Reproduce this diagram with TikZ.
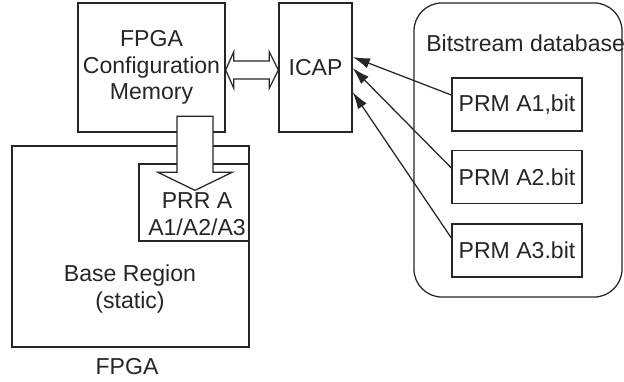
\documentclass[tikz,border=0pt]{standalone}
\usepackage{fontspec}
\setmainfont{Liberation Sans}
\usetikzlibrary{arrows.meta,calc,positioning}

\begin{document}
\begin{tikzpicture}[
    x=0.025cm,
    y=-0.025cm,
    >={Latex[length=4.3mm, width=2.6mm]},
    box/.style={draw=black!85, line width=0.9pt, align=center, inner sep=0pt, text=black!85, font=\fontsize{16.4}{18.8}\selectfont},
    txt/.style={align=center, inner sep=0pt, text=black!85, font=\fontsize{16.4}{18.8}\selectfont},
    hollow/.style={draw=black!85, fill=white, line width=0.9pt, line join=miter},
    line/.style={->, draw=black!85, line width=0.9pt}
]
\useasboundingbox (0,0) rectangle (624,381);

\node[box, minimum width=5.925cm, minimum height=5.025cm] (fpga) at (130.5,246.5) {};
\node[box, minimum width=2.75cm, minimum height=1.925cm] (prr) at (194,202.5) {};
\node[box, minimum width=3.675cm, minimum height=3.225cm] (mem) at (151.5,67.5) {FPGA\\Configuration\\Memory};
\node[box, minimum width=1.825cm, minimum height=3.225cm] (icap) at (315.5,67.5) {ICAP};
\node[box, rounded corners=0.7cm, minimum width=5.2cm, minimum height=7.35cm] (db) at (518,150) {};
\node[box, minimum width=3.25cm, minimum height=1.325cm] (prmA) at (517,104.5) {PRM A1,bit};
\node[box, minimum width=3.25cm, minimum height=1.325cm] (prmB) at (517,177) {PRM A2.bit};
\node[box, minimum width=3.25cm, minimum height=1.325cm] (prmC) at (517,250.5) {PRM A3.bit};

\node[txt, anchor=west] (dbname) at (426,43) {Bitstream database};
\node[txt] (prrname) at (197,214) {PRR A\\A1/A2/A3};
\node[txt] (base) at (130,289) {Base Region\\(static)};
\node[txt] (fpganame) at (127,367) {FPGA};

\draw[line] ($(prmA.west)+(0,-9.5)$) -- ($(icap.east)+(0,-10.5)$);
\draw[line] ($(prmB.west)+(0,-9)$) -- ($(icap.east)+(0,0.5)$);
\draw[line] ($(prmC.west)+(0,-12.5)$) -- ($(icap.east)+(0,24.5)$);

% double arrow memory <-> icap
\coordinate (la) at ($(mem.east)+(0,2.5)$);
\coordinate (ra) at ($(icap.west)+(0,2.5)$);
\draw[hollow] (la) -- ++(8,-18) -- ++(0,9) -- ($(ra)+(-9,-9)$) -- ++(0,-9) -- (ra)
    -- ++(-9,18) -- ++(0,-9) -- ($(la)+(8,9)$) -- ++(0,9) -- cycle;

% block arrow memory -> prr
\coordinate (tip) at ($(prr.north)+(1,27)$);
\draw[hollow] (tip) -- ++(-37,-18) -- ++(19,0) -- ++(0,-56) -- ++(36,0) -- ++(0,56)
    -- ++(19,0) -- cycle;
\end{tikzpicture}
\end{document}
